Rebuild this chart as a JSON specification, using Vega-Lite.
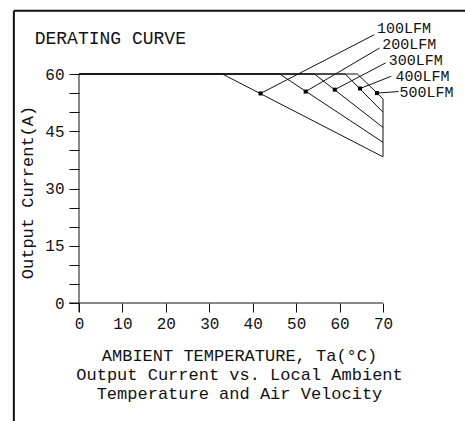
{
  "$schema": "https://vega.github.io/schema/vega-lite/v6.json",
  "width": 304,
  "height": 229,
  "autosize": "none",
  "padding": {"left": 79, "top": 74, "right": 82, "bottom": 118},
  "background": "white",
  "datasets": {
    "curves": [
      {"series": "100LFM", "x": 0, "y": 60, "order": 1},
      {"series": "100LFM", "x": 33.0, "y": 60, "order": 2},
      {"series": "100LFM", "x": 70, "y": 38.3, "order": 3},
      {"series": "200LFM", "x": 0, "y": 60, "order": 1},
      {"series": "200LFM", "x": 46.2, "y": 60, "order": 2},
      {"series": "200LFM", "x": 70, "y": 42.1, "order": 3},
      {"series": "300LFM", "x": 0, "y": 60, "order": 1},
      {"series": "300LFM", "x": 54.2, "y": 60, "order": 2},
      {"series": "300LFM", "x": 70, "y": 46.0, "order": 3},
      {"series": "400LFM", "x": 0, "y": 60, "order": 1},
      {"series": "400LFM", "x": 61.3, "y": 60, "order": 2},
      {"series": "400LFM", "x": 70, "y": 50.0, "order": 3},
      {"series": "500LFM", "x": 0, "y": 60, "order": 1},
      {"series": "500LFM", "x": 64.1, "y": 60, "order": 2},
      {"series": "500LFM", "x": 70, "y": 53.5, "order": 3},
      {"series": "edge", "x": 70, "y": 53.5, "order": 1},
      {"series": "edge", "x": 70, "y": 38.3, "order": 2}
    ],
    "leaders": [
      {"series": "100LFM", "x": 41.8, "y": 54.9, "order": 1},
      {"series": "100LFM", "x": 68.0, "y": 70.3, "order": 2},
      {"series": "200LFM", "x": 52.2, "y": 55.4, "order": 1},
      {"series": "200LFM", "x": 69.2, "y": 66.8, "order": 2},
      {"series": "300LFM", "x": 58.9, "y": 55.9, "order": 1},
      {"series": "300LFM", "x": 70.6, "y": 62.9, "order": 2},
      {"series": "400LFM", "x": 64.7, "y": 56.2, "order": 1},
      {"series": "400LFM", "x": 71.9, "y": 59.4, "order": 2},
      {"series": "500LFM", "x": 68.6, "y": 55.0, "order": 1},
      {"series": "500LFM", "x": 73.6, "y": 55.4, "order": 2}
    ],
    "dots": [
      {"series": "100LFM", "x": 41.8, "y": 54.9, "order": 1},
      {"series": "200LFM", "x": 52.2, "y": 55.4, "order": 1},
      {"series": "300LFM", "x": 58.9, "y": 55.9, "order": 1},
      {"series": "400LFM", "x": 64.7, "y": 56.2, "order": 1},
      {"series": "500LFM", "x": 68.6, "y": 55.0, "order": 1}
    ],
    "labels": [
      {"text": "100LFM", "x": 68.6, "y": 72.0, "size": 15},
      {"text": "200LFM", "x": 69.8, "y": 67.8, "size": 15},
      {"text": "300LFM", "x": 71.3, "y": 63.6, "size": 15},
      {"text": "400LFM", "x": 72.9, "y": 59.4, "size": 15},
      {"text": "500LFM", "x": 73.8, "y": 55.2, "size": 15},
      {"text": "DERATING CURVE", "x": -10.2, "y": 69.3, "size": 18}
    ],
    "axislines": [
      {"x": -2.3, "x2": 70, "y": 0, "y2": 0},
      {"x": 0, "x2": 0, "y": -2.4, "y2": 60}
    ],
    "frame": [
      {"x": -15.0, "x2": 90, "y": 76.6, "y2": 76.6},
      {"x": -15.0, "x2": -15.0, "y": 76.6, "y2": -35}
    ]
  },
  "encoding": {
    "x": {
      "field": "x", "type": "quantitative",
      "scale": {"domain": [0, 70], "nice": false, "zero": false},
      "axis": {
        "values": [0, 10, 20, 30, 40, 50, 60, 70],
        "title": ["AMBIENT TEMPERATURE, Ta(°C)", "Output Current vs. Local Ambient", "Temperature and Air Velocity"],
        "titleLineHeight": 19,
        "titleX": 160,
        "titleY": 57,
        "titleBaseline": "alphabetic",
        "titleAlign": "center",
        "domain": false,
        "grid": false,
        "tickSize": 9,
        "labelPadding": 3,
        "labelDx": -4,
        "labelFlush": false,
        "labelOverlap": false
      }
    },
    "y": {
      "field": "y", "type": "quantitative",
      "scale": {"domain": [0, 60], "nice": false, "zero": false},
      "axis": {
        "values": [0, 5, 10, 15, 20, 25, 30, 35, 40, 45, 50, 55, 60],
        "labelExpr": "datum.value % 15 === 0 ? datum.label : ''",
        "labelOverlap": false,
        "labelFlush": false,
        "title": "Output Current(A)",
        "titleX": -43,
        "titleY": 118,
        "titleAlign": "center",
        "titleAngle": -90,
        "domain": false,
        "grid": false,
        "tickSize": 10,
        "labelPadding": 5
      }
    }
  },
  "layer": [
    {
      "data": {"name": "curves"},
      "mark": {"type": "line", "color": "#111", "strokeWidth": 1},
      "encoding": {
        "detail": {"field": "series"},
        "order": {"field": "order", "type": "quantitative"}
      }
    },
    {
      "data": {"name": "leaders"},
      "mark": {"type": "line", "color": "#111", "strokeWidth": 1},
      "encoding": {
        "detail": {"field": "series"},
        "order": {"field": "order", "type": "quantitative"}
      }
    },
    {
      "data": {"name": "dots"},
      "mark": {"type": "point", "shape": "square", "filled": true, "size": 16, "color": "#000", "opacity": 1},
      "encoding": {}
    },
    {
      "data": {"name": "labels"},
      "mark": {"type": "text", "align": "left", "baseline": "middle", "font": "Liberation Mono", "color": "#111"},
      "encoding": {
        "text": {"field": "text"},
        "size": {"field": "size", "type": "quantitative", "scale": null}
      }
    },
    {
      "data": {"name": "axislines"},
      "mark": {"type": "rule", "color": "#111", "strokeWidth": 1},
      "encoding": {
        "x2": {"field": "x2"},
        "y2": {"field": "y2"}
      }
    },
    {
      "data": {"name": "frame"},
      "mark": {"type": "rule", "color": "#111", "strokeWidth": 2},
      "encoding": {
        "x2": {"field": "x2"},
        "y2": {"field": "y2"}
      }
    }
  ],
  "config": {
    "view": {"stroke": null},
    "axis": {
      "labelFont": "Liberation Mono",
      "labelFontSize": 16,
      "labelColor": "#111",
      "titleFont": "Liberation Mono",
      "titleFontSize": 17,
      "titleFontWeight": "normal",
      "titleColor": "#111",
      "tickColor": "#111",
      "tickWidth": 1
    }
  }
}
